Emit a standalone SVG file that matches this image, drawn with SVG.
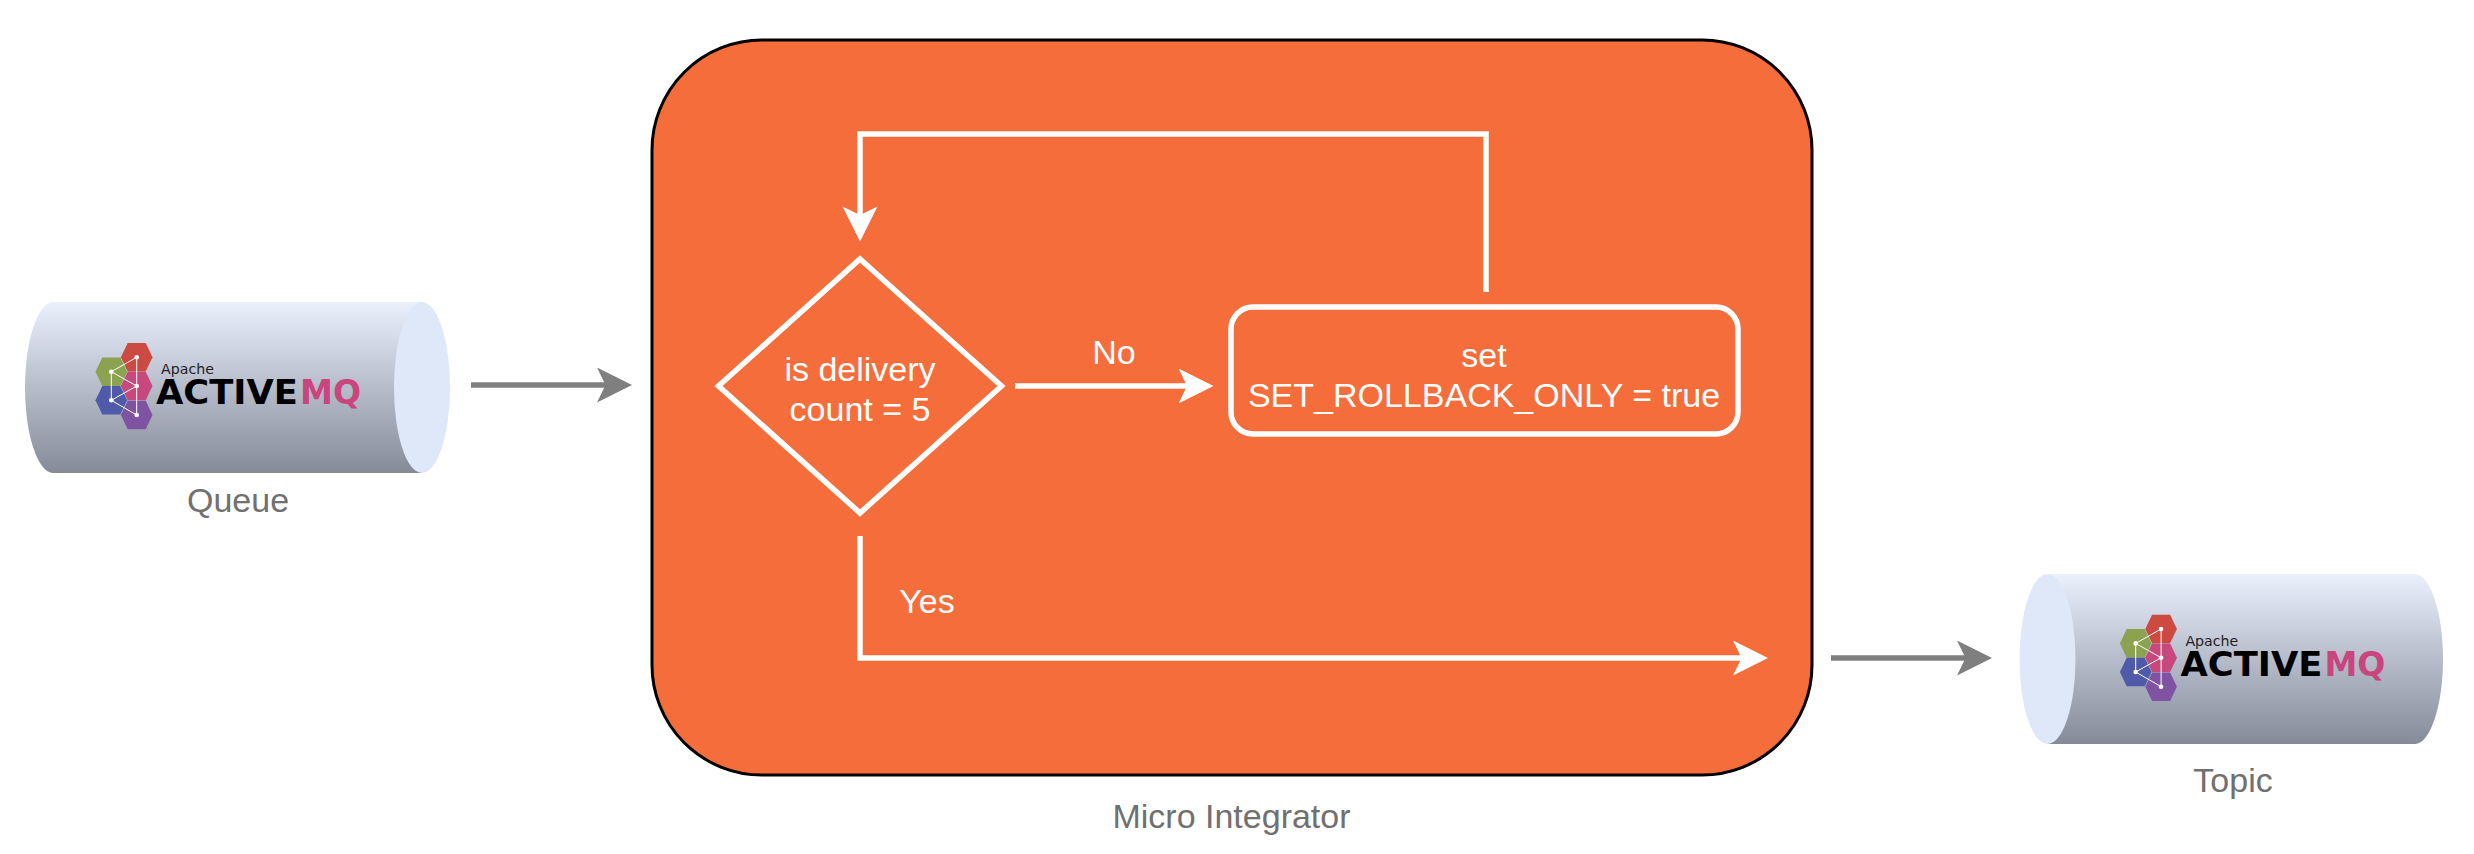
<svg xmlns="http://www.w3.org/2000/svg" width="2474" height="854" viewBox="0 0 2474 854">
<style>
text{font-family:"Liberation Sans",Arial,sans-serif;font-size:34px;text-anchor:middle}
.w{fill:#fff}
.g{fill:#707070}
.line{fill:none;stroke:#fff;stroke-width:5.5}
.gl{fill:none;stroke:#7f7f7f;stroke-width:5.3}
.body{fill:url(#cyl)}
.cap{fill:#dfe8f9}
.ap{font-family:"DejaVu Sans",sans-serif;font-size:14.2px;fill:#222;text-anchor:start}
.am{font-family:"DejaVu Sans",sans-serif;font-weight:bold;font-size:34px;fill:#000;text-anchor:start}
.mq{font-family:"DejaVu Sans",sans-serif;font-weight:bold;font-size:34px;fill:#c9457d;text-anchor:start}
</style>
<defs>
<linearGradient id="cyl" x1="0" y1="0" x2="0" y2="1">
<stop offset="0" stop-color="#eaf1fd"/>
<stop offset="0.5" stop-color="#b7bccb"/>
<stop offset="0.9" stop-color="#8f95a2"/>
<stop offset="1" stop-color="#848a96"/>
</linearGradient>
<marker id="aw" markerUnits="userSpaceOnUse" markerWidth="40" markerHeight="40" refX="15" refY="17.5" orient="auto">
<path d="M0 0L35 17.5L0 35L8.500 17.5Z" fill="#fff"/>
</marker>
<marker id="ag" markerUnits="userSpaceOnUse" markerWidth="40" markerHeight="40" refX="15" refY="17.5" orient="auto">
<path d="M0 0L35 17.5L0 35L8.500 17.5Z" fill="#7f7f7f"/>
</marker>
<polygon id="hex" points="-15.8,0 -9,-14.300 9,-14.300 15.8,0 9,14.300 -9,14.300"/>
<g id="mark">
<use href="#hex" x="136.7" y="357.3" fill="#cd4a42"/>
<use href="#hex" x="136.7" y="415" fill="#7f53a2"/>
<use href="#hex" x="136.7" y="386" fill="#c6487c"/>
<use href="#hex" x="111.3" y="371.7" fill="#8ba250"/>
<use href="#hex" x="111.3" y="400.3" fill="#4f5ba8"/>
<path d="M136.7 357.3V415L111.3 400.3V371.7L136.7 386L111.3 400.3M111.3 371.7L136.7 357.3" fill="none" stroke="#fff" stroke-width="1"/>
<g fill="#fff"><circle cx="136.7" cy="357.3" r="2.3"/><circle cx="136.7" cy="386" r="2.3"/><circle cx="136.7" cy="415" r="2.3"/><circle cx="111.3" cy="371.7" r="2.3"/><circle cx="111.3" cy="400.3" r="2.3"/></g>
</g>
</defs>

<g id="micro-integrator">
<rect x="652" y="40" width="1160" height="735" rx="110" ry="110" fill="#f46d3b" stroke="#000" stroke-width="3"/>
<text class="g" x="1231.500" y="828">Micro Integrator</text>
</g>

<g id="queue">
<path class="body" d="M53 302H422V473H53C38 473 25 435 25 387.500S38 302 53 302Z"/>
<ellipse class="cap" cx="422" cy="387.500" rx="28" ry="85.500"/>
<use href="#mark"/>
<text class="ap" x="161" y="374">Apache</text>
<text class="am" x="156" y="404" textLength="142" lengthAdjust="spacingAndGlyphs">ACTIVE</text>
<text class="mq" x="300" y="404" textLength="61" lengthAdjust="spacingAndGlyphs">MQ</text>
<text class="g" x="238" y="512">Queue</text>
</g>

<g id="topic">
<path class="body" d="M2047.500 574H2415C2430 574 2443 612 2443 659S2430 744 2415 744H2047.500Z"/>
<ellipse class="cap" cx="2047.500" cy="659" rx="28" ry="85"/>
<use href="#mark" x="2024.4" y="271.7"/>
<text class="ap" x="2185.400" y="645.700">Apache</text>
<text class="am" x="2180.400" y="675.700" textLength="142" lengthAdjust="spacingAndGlyphs">ACTIVE</text>
<text class="mq" x="2324.400" y="675.700" textLength="61" lengthAdjust="spacingAndGlyphs">MQ</text>
<text class="g" x="2233" y="792">Topic</text>
</g>

<g id="decision">
<polygon class="line" points="860,259 1001.500,386 860,513 718.500,386"/>
<text class="w" x="860" y="381">is delivery</text>
<text class="w" x="860" y="421">count = 5</text>
</g>

<g id="set-rollback">
<rect class="line" x="1231" y="307" width="507" height="127" rx="22" ry="22"/>
<text class="w" x="1484" y="367">set</text>
<text class="w" x="1484" y="407">SET_ROLLBACK_ONLY = true</text>
</g>

<g id="connectors">
<path class="gl" d="M471 385H612" marker-end="url(#ag)"/>
<path class="gl" d="M1831 658H1972" marker-end="url(#ag)"/>
<path class="line" d="M1015 386H1193.500" marker-end="url(#aw)"/>
<path class="line" d="M1486 292V134H860V221.500" marker-end="url(#aw)"/>
<path class="line" d="M860 536V658H1748" marker-end="url(#aw)"/>
<text class="w" x="1114" y="364">No</text>
<text class="w" x="927" y="612.500">Yes</text>
</g>
</svg>
